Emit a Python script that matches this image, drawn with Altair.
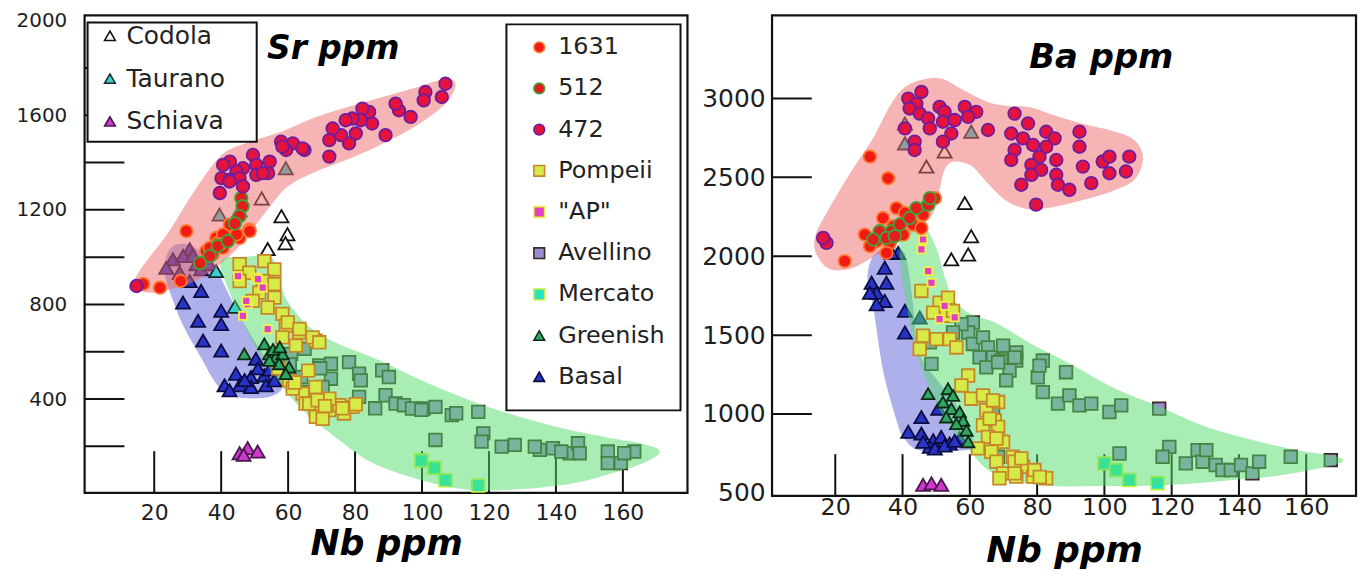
import altair as alt
import pandas as pd

FONT = "DejaVu Sans"

# ---------------- categories & styles ----------------
GROUPS9 = ["1631", "512", "472", "Pompeii", '"AP"', "Avellino", "Mercato", "Greenish", "Basal"]
FILL9 = ["#f41a14", "#e41c1c", "#e6123e", "#d6ea48", "#e23ec8", "#9c8cd2", "#20e6c4", "#2fa862", "#2834c6"]
STROKE9 = ["#ff7a30", "#3da43d", "#6c1ea0", "#c8862a", "#f2f040", "#3a2a22", "#c6f040", "#0e2a16", "#0c0c44"]
SHAPE9 = ["circle", "circle", "circle", "square", "square", "square", "square", "triangle-up", "triangle-up"]

GROUPS3 = ["Codola", "Taurano", "Schiava"]
FILL3 = ["#ffffff", "#38cfcf", "#cf36cf"]
STROKE3 = ["#111111", "#1a2a2a", "#4a184a"]
SHAPE3 = ["triangle-up", "triangle-up", "triangle-up"]

NB_TICKS = [20, 40, 60, 80, 100, 120, 140, 160]

# ---------------- Sr ppm vs Nb ppm (left panel) ----------------
SR_472 = [(107, 1733), (105.9, 1677), (101, 1698), (100.5, 1663), (96.6, 1593), (93.1, 1621), (92.1, 1649),
          (89.1, 1516), (85.1, 1565), (84.2, 1614), (82.2, 1628), (81.7, 1579), (79.2, 1586), (80.2, 1523),
          (78.2, 1481), (77.2, 1579), (75.8, 1516), (73.3, 1544), (72.3, 1495), (72.3, 1425), (64.9, 1453),
          (61.4, 1481), (57.9, 1488), (59.4, 1453), (54.5, 1404), (54, 1355), (49.5, 1432), (50.5, 1390),
          (46.5, 1376), (44.6, 1362), (42.6, 1404), (40.6, 1390), (40.1, 1334), (42.6, 1327), (45.5, 1334),
          (39.6, 1271), (46.5, 1299), (50.5, 1348), (52.4, 1355), (58.3, 1467), (64.3, 1460), (42.5, 1320),
          (14.7, 878)]
SR_1631 = [(29.6, 1110), (21.7, 871), (16.7, 887), (38.5, 1081), (42.5, 1110), (45.5, 1081), (48.4, 1117),
           (40.5, 1039), (37.5, 1012), (39, 1060), (35.5, 1026), (48.5, 1110), (44.6, 1096), (40.6, 1096),
           (42.6, 1138), (39.6, 1054), (36.6, 1039), (27.9, 899)]
SR_512 = [(46, 1250), (46.4, 1215), (45.5, 1173), (44.1, 1143), (39, 1047), (36.6, 1005), (33.7, 975), (42, 1068)]
SR_CODOLA = [(52.1, 1248), (45.5, 1198), (58, 1173), (59.8, 1097), (59.2, 1059), (53.9, 1034)]
SR_TAURANO = [(59.3, 1376), (39.5, 1180), (38.5, 941), (44.1, 790)]
SR_SCHIAVA = [(45.5, 171), (47.9, 192), (50.9, 178), (46.7, 164)]
SR_BASAL = [(34, 857), (28.6, 808), (40, 773), (33.1, 731), (40, 717), (34.6, 647), (40, 605), (44.4, 507),
            (48.9, 493), (41, 458), (45.5, 458), (48.9, 451), (52.9, 500), (50.4, 570), (53.4, 458), (42.5, 437),
            (55.9, 479), (51, 530), (47, 480), (54.5, 525),
            (30.6, 1033), (25.6, 991), (23.6, 955), (27.6, 934), (32.6, 970), (34, 949), (30.6, 899),
            (36.5, 970), (28.6, 1005), (31.6, 1005)]
SR_GREENISH = [(46.9, 591), (52.9, 633), (54.4, 591), (56.3, 577), (58.3, 591), (57.3, 549), (54.4, 563),
               (60.3, 535), (59.3, 507), (55.5, 610), (57.5, 620)]
SR_AVELLINO = [(64.9, 612), (69.3, 542), (72.8, 549), (78.2, 556), (81.2, 507), (81.7, 479), (88.1, 521),
               (90.1, 493), (72.8, 486), (70.3, 451), (65.8, 430), (63.9, 493), (60.9, 591), (81.2, 409),
               (89.1, 416), (92.1, 381), (94.6, 374), (97, 360), (100.5, 360), (104, 367), (108.9, 332),
               (116.8, 346), (104, 227), (118.3, 255), (117.8, 220), (123.8, 199), (127.7, 206), (135.2, 185),
               (139.1, 192), (144.1, 171), (146.6, 213), (155.5, 178), (155.5, 129), (159.4, 129), (163.4, 178),
               (160.4, 171), (133.7, 199), (141.6, 178), (147.1, 171), (60.5, 546), (69.6, 530), (86, 361),
               (99.8, 354), (110.2, 340)]
SR_POMPEII = [(52.9, 983), (55.9, 948), (45.5, 970), (48.4, 934), (52.4, 899), (55.9, 886), (51.4, 850),
              (55.9, 829), (49.4, 815), (53.9, 787), (58.3, 760), (59.3, 710), (63.3, 682), (58.3, 661),
              (62.3, 626), (68.2, 647), (45.5, 899), (60.3, 479), (64.3, 423), (68.2, 451), (68.2, 353),
              (65.2, 381), (61.4, 444), (66.3, 381), (68.3, 325), (72.3, 353), (75.3, 374), (76.7, 339),
              (79.2, 367), (72.3, 402), (68.8, 395), (59.9, 724), (63.4, 696), (67.3, 661), (69.3, 640),
              (71, 370), (70.3, 316), (76.2, 361), (80.2, 378), (62, 470), (57, 530), (66, 520)]
SR_AP = [(45, 920), (50.4, 913), (52.4, 871), (47.9, 801), (46.5, 752), (53.9, 696), (51, 907), (47.5, 815)]
SR_MERCATO = [(99.8, 140), (103.7, 109), (107, 56), (116.8, 34)]

SR_RED_FIELD = [(14, 880), (16, 950), (24, 1100), (32, 1280), (40, 1430), (48, 1485), (58, 1530), (68, 1590),
                (79, 1640), (89, 1680), (100, 1725), (107.5, 1755), (110, 1730), (108, 1665), (104, 1612),
                (97, 1545), (89, 1485), (79, 1420), (68, 1360), (60, 1300), (55, 1222), (50, 1130), (45, 1040),
                (41, 985), (36, 930), (30, 885), (24, 862), (18, 850)]
SR_BLUE_FIELD = [(25, 1040), (23, 950), (25, 840), (29, 700), (34, 575), (38, 475), (41, 430), (46, 405),
                 (54, 408), (58, 440), (58, 505), (53, 580), (46, 740), (41, 880), (38, 960), (34, 1020),
                 (30, 1055)]
SR_GREEN_FIELD = [(40, 985), (48, 1003), (55, 1000), (57, 913), (60, 810), (66, 710), (74, 640), (87, 565),
                  (100, 478), (118, 375), (138, 290), (155, 238), (166, 210), (171, 180), (167, 135), (157, 87),
                  (144, 41), (125, 15), (113, 18), (100, 56), (85, 132), (74, 240), (66, 331), (60, 420),
                  (56, 500), (51, 600), (46, 740), (42, 870)]

# ---------------- Ba ppm vs Nb ppm (right panel) ----------------
BA_472 = [(45.6, 3041), (41.7, 2999), (44.1, 2967), (42.1, 2936), (45.1, 2904), (47.6, 2873), (51, 2946),
          (52.5, 2915), (48.1, 2810), (52, 2852), (55.5, 2863), (58.5, 2946), (61.9, 2915), (59.5, 2883),
          (65.4, 2800), (54.5, 2778), (52, 2726), (43.6, 2726), (43.6, 2673), (40.7, 2810), (17.4, 2085),
          (16.4, 2116), (73.3, 2904), (77.3, 2841), (72.3, 2778), (75.8, 2747), (82.7, 2789), (85.2, 2747),
          (78.8, 2705), (82.7, 2694), (73.3, 2673), (80.7, 2631), (85.7, 2610), (72.3, 2610), (78.3, 2579),
          (81.2, 2547), (78.3, 2516), (85.7, 2516), (75.3, 2453), (86.2, 2453), (89.6, 2421), (79.7, 2327),
          (92.6, 2789), (92.6, 2694), (93.6, 2568), (96.1, 2463), (99.5, 2600), (101.5, 2631), (101.5, 2526),
          (106.4, 2537), (107.4, 2631)]
BA_1631 = [(30.3, 2631), (35.7, 2494), (22.8, 1969), (28.8, 2137), (34.2, 2242), (38.2, 2305), (40.7, 2274),
           (37.2, 2190), (32.3, 2095), (36.2, 2085), (40.2, 2137), (43.1, 2201), (45.6, 2179), (46.1, 2264),
           (49.6, 2368), (35.2, 2021), (30.3, 2064)]
BA_512 = [(44.1, 2305), (47.6, 2327), (48.1, 2368), (33.2, 2158), (36.7, 2158), (39.2, 2201), (31.3, 2106),
          (35.2, 2116), (42.1, 2242), (37.7, 2127)]
BA_CODOLA = [(47.1, 2568), (52.5, 2663), (58.5, 2337), (60.4, 2127), (59.5, 2011), (54.5, 1980)]
BA_TAURANO = [(40.7, 2841), (40.7, 2715), (60.4, 2789)]
BA_SCHIAVA = [(46.1, 551), (48.6, 561), (51.5, 551)]
BA_BASAL = [(38.7, 2021), (36.7, 2021), (34.7, 1927), (30.8, 1832), (35.2, 1832), (32.3, 1769), (30.3, 1769),
            (34.7, 1717), (32.3, 1696), (40.7, 1654), (40.7, 1517), (45.1, 1612), (45.6, 981), (41.7, 887),
            (45.6, 876), (49.1, 834), (48.1, 792), (51.5, 855), (54, 813), (57, 845), (50.6, 1034), (49.6, 782),
            (46.1, 824), (52.5, 800), (55.5, 830)]
BA_GREENISH = [(47.6, 1129), (53.5, 1160), (55, 1118), (52, 1076), (54.5, 1034), (57, 1013), (53, 981),
               (58, 960), (56, 939), (59, 897), (59.5, 824)]
BA_POMPEII = [(45.6, 1780), (51, 1706), (53.5, 1738), (49.1, 1643), (53, 1622), (55, 1654), (46.1, 1496),
              (50.1, 1475), (54, 1475), (56, 1422), (45.1, 1412), (59.5, 1244), (57.5, 1181), (60.4, 1097),
              (63.9, 1118), (68.4, 1076), (64.9, 1024), (67.4, 960), (63.9, 929), (68.4, 918), (65.4, 855),
              (69.9, 824), (62.4, 782), (66.4, 761), (72.8, 729), (67.9, 698), (75.8, 666), (69.9, 624),
              (73.8, 603), (78.8, 603), (66.9, 1086), (65.9, 971), (67.9, 845), (73.3, 698), (75.3, 719),
              (79.2, 645), (82.7, 593), (73.3, 624), (68.8, 593), (80.8, 601)]
BA_AP = [(46.1, 2106), (45.6, 2043), (47.6, 1906), (48.6, 1832), (52.5, 1685), (51, 1601), (55.5, 1612)]
BA_AVELLINO = [(60.9, 1580), (59.5, 1517), (60.9, 1444), (63.9, 1486), (65.4, 1422), (62.9, 1359), (66.9, 1359),
               (64.9, 1296), (69.3, 1339), (69.9, 1433), (73.8, 1391), (73.8, 1339), (71.8, 1276), (70.8, 1213),
               (57.5, 1570), (55, 1517), (48.1, 1454), (48.6, 1318), (66.9, 1024), (68.4, 729), (68.4, 1328),
               (73.3, 1359), (81.7, 1339), (80.2, 1233), (88.6, 1265), (81.7, 1139), (86.2, 1066), (89.6, 1118),
               (92.6, 1055), (96.1, 1066), (101.5, 1013), (105, 1055), (116.3, 1034), (104.5, 750), (119.3, 792),
               (117.3, 729), (124.2, 687), (127.7, 771), (129.2, 698), (133.1, 677), (135.1, 645), (137.6, 645),
               (140.6, 677), (144, 624), (146, 698), (155.4, 729), (167.3, 708), (130.3, 771), (80.7, 1307)]
BA_MERCATO = [(100, 687), (103.5, 645), (107.4, 582), (115.8, 561)]

BA_RED_FIELD = [(14.2, 2024), (18.1, 1921), (24.5, 1921), (30.9, 1990), (37.3, 2070), (42.4, 2139), (47.5, 2231),
                (50.1, 2322), (51.4, 2461), (52.6, 2552), (55.2, 2600), (60.3, 2575), (65.4, 2461), (70.5, 2357),
                (76.9, 2300), (84.6, 2311), (93.6, 2357), (102.5, 2414), (108.9, 2484), (111.5, 2621),
                (108.9, 2736), (102.5, 2793), (93.6, 2839), (84.6, 2897), (78.2, 2943), (70.5, 2954),
                (65.4, 2977), (57.7, 3057), (51.4, 3126), (45, 3115), (39.9, 3057), (36, 2943), (30.9, 2736),
                (24.5, 2529), (18.1, 2300), (14.2, 2139)]
BA_BLUE_FIELD = [(31, 1990), (35.2, 2053), (40.2, 2032), (42, 1880), (43.1, 1696), (45.1, 1381), (52, 1170),
                 (59, 960), (61, 800), (57, 768), (45, 771), (40.2, 855), (38.2, 960), (34.2, 1276),
                 (31.3, 1675), (29.6, 1850)]
BA_GREEN_FIELD = [(39.9, 2139), (46.2, 2185), (50.1, 2047), (52.6, 1863), (55.2, 1726), (60.3, 1634), (68, 1575),
                  (78.2, 1445), (91, 1305), (103.8, 1155), (116.6, 1045), (129.4, 925), (142.2, 845),
                  (157.5, 770), (169.1, 730), (170.3, 692), (161.4, 646), (148.6, 601), (135.8, 578),
                  (123, 555), (110.2, 544), (97.4, 544), (84.6, 544), (73.1, 578), (65.4, 646), (60.3, 761),
                  (52.6, 968), (47.5, 1197), (43.7, 1427), (40.5, 1772), (39.2, 2001)]


def pts_df(groups):
    rows = []
    for g, pairs in groups:
        for nb, v in pairs:
            rows.append({"nb": nb, "v": v, "grp": g})
    return pd.DataFrame(rows)


def region_df(pairs):
    return pd.DataFrame({"nb": [p[0] for p in pairs], "v": [p[1] for p in pairs],
                         "i": list(range(len(pairs)))})


def panel(cfg):
    W, H = cfg["w"], cfg["h"]
    X = alt.X("nb:Q", scale=alt.Scale(domain=cfg["xdom"], nice=False, zero=False),
              axis=alt.Axis(values=NB_TICKS, title="Nb ppm", format="d", grid=False, ticks=False, tickSize=0,
                            domain=False, labelFontSize=cfg["xlab"], labelPadding=cfg["xpad"],
                            labelOverlap=False, titleFontSize=cfg["tsize"], titleFontWeight="bold",
                            titleFontStyle="italic", titlePadding=cfg["tpad"]))
    Y = alt.Y("v:Q", scale=alt.Scale(domain=cfg["ydom"], nice=False, zero=False),
              axis=alt.Axis(values=cfg["ylabels"], title=None, format="d", grid=False, ticks=False, tickSize=0,
                            domain=False, labelFontSize=cfg["ylab"], labelPadding=cfg["ypad"],
                            labelOverlap=False))

    def region(pairs, color, op):
        return alt.Chart(region_df(pairs)).mark_line(
            interpolate="cardinal-closed", fill=color, fillOpacity=op, strokeOpacity=0, strokeWidth=0
        ).encode(x=X, y=Y, order="i:Q")

    def points(groups, nine=True, size=170, legend=None):
        dom, fills, strokes, shapes = (GROUPS9, FILL9, STROKE9, SHAPE9) if nine else (GROUPS3, FILL3, STROKE3, SHAPE3)
        return alt.Chart(pts_df(groups)).mark_point(filled=True, opacity=1, size=size, strokeWidth=1.8).encode(
            x=X, y=Y,
            fill=alt.Fill("grp:N", scale=alt.Scale(domain=dom, range=fills), legend=legend),
            stroke=alt.Stroke("grp:N", scale=alt.Scale(domain=dom, range=strokes), legend=legend),
            shape=alt.Shape("grp:N", scale=alt.Scale(domain=dom, range=shapes), legend=legend),
        )

    ytick = alt.Chart(pd.DataFrame({"v": cfg["yticks"]})).mark_rule(color="#111", strokeWidth=2).encode(
        y=Y, x=alt.value(0), x2=alt.value(40))
    xtick = alt.Chart(pd.DataFrame({"nb": NB_TICKS})).mark_rule(color="#111", strokeWidth=2).encode(
        x=X, y=alt.value(H), y2=alt.value(H - 42))

    d = cfg["data"]
    layers = [
        region(cfg["blue"], "#aeb0ec", 1.0),
        ytick, xtick,
        points([("Basal", d["Basal"])], size=200),
        points([("Mercato", d["Mercato"]), ("Avellino", d["Avellino"])], size=160),
        points([("Codola", d["Codola"]), ("Taurano", d["Taurano"])], nine=False, size=200),
        region(cfg["red"], "#ee6a6a", 0.5),
        region(cfg["green"], "#52dd6a", 0.5),
        points([("Pompeii", d["Pompeii"])], size=160),
        points([('"AP"', d['"AP"'])], size=64),
        points([("Greenish", d["Greenish"]), ("1631", d["1631"]), ("512", d["512"]), ("472", d["472"])],
               size=160, legend=cfg["leg9"]),
        points([("Schiava", d["Schiava"])], nine=False, size=200, legend=cfg["leg3"]),
    ]
    for (x1, y1, x2, y2) in cfg["boxes"]:
        layers.append(alt.Chart(pd.DataFrame({"k": [0]})).mark_rect(
            fill="white", stroke="#111", strokeWidth=2).encode(
            x=alt.value(x1), x2=alt.value(x2), y=alt.value(y1), y2=alt.value(y2)))
    tx, ty = cfg["label_pos"]
    layers.append(alt.Chart(pd.DataFrame({"t": [cfg["label"]]})).mark_text(
        font=FONT, fontSize=cfg["label_size"], fontWeight="bold", fontStyle="italic",
        align="center", baseline="middle", color="#000").encode(
        text="t:N", x=alt.value(tx), y=alt.value(ty)))
    return alt.layer(*layers).properties(width=W, height=H).resolve_scale(
        fill="independent", stroke="independent", shape="independent")


leg9 = alt.Legend(orient="none", legendX=445, legendY=20, title=None, direction="vertical", padding=0,
                  labelFont=FONT, labelFontSize=24, labelColor="#222", symbolSize=115,
                  symbolStrokeWidth=1.6, rowPadding=17.4, labelOffset=7)
leg3 = alt.Legend(orient="none", legendX=13, legendY=8, title=None, direction="vertical", padding=0,
                  labelFont=FONT, labelFontSize=25, labelColor="#222", symbolSize=115,
                  symbolStrokeWidth=1.6, rowPadding=17, labelOffset=4)

left = panel(dict(
    w=606, h=480, xdom=[-0.8, 179.3], ydom=[3, 2022],
    ylabels=[400, 800, 1200, 1600, 2000], yticks=[200, 400, 600, 800, 1000, 1200, 1400, 1600, 1800],
    xlab=22, xpad=10, tsize=35, tpad=3, ylab=20, ypad=18,
    blue=SR_BLUE_FIELD, red=SR_RED_FIELD, green=SR_GREEN_FIELD,
    data={"472": SR_472, "1631": SR_1631, "512": SR_512, "Codola": SR_CODOLA, "Taurano": SR_TAURANO,
          "Schiava": SR_SCHIAVA, "Basal": SR_BASAL, "Greenish": SR_GREENISH, "Avellino": SR_AVELLINO,
          "Pompeii": SR_POMPEII, '"AP"': SR_AP, "Mercato": SR_MERCATO},
    leg9=leg9, leg3=leg3,
    boxes=[(3, 7, 173, 127), (424, 9, 599, 397)],
    label="Sr ppm", label_pos=(250, 34), label_size=33,
))

right = panel(dict(
    w=587, h=483, xdom=[1.2, 174.8], ydom=[481, 3526],
    ylabels=[500, 1000, 1500, 2000, 2500, 3000], yticks=[1000, 1500, 2000, 2500, 3000],
    xlab=24, xpad=0, tsize=36, tpad=14, ylab=25, ypad=7,
    blue=BA_BLUE_FIELD, red=BA_RED_FIELD, green=BA_GREEN_FIELD,
    data={"472": BA_472, "1631": BA_1631, "512": BA_512, "Codola": BA_CODOLA, "Taurano": BA_TAURANO,
          "Schiava": BA_SCHIAVA, "Basal": BA_BASAL, "Greenish": BA_GREENISH, "Avellino": BA_AVELLINO,
          "Pompeii": BA_POMPEII, '"AP"': BA_AP, "Mercato": BA_MERCATO},
    leg9=None, leg3=None,
    boxes=[],
    label="Ba ppm", label_pos=(331, 43), label_size=34,
))

chart = alt.hconcat(left, right, spacing=85, bounds="flush").resolve_scale(
    fill="independent", stroke="independent", shape="independent"
).properties(
    padding={"left": 7, "top": 0, "right": 0, "bottom": 0}
).configure_view(
    stroke="#111", strokeWidth=2.2
).configure_axis(
    grid=False, labelFont=FONT, titleFont=FONT, labelColor="#1e1e1e", titleColor="#000"
)

chart.save("out.html", embed_options={"renderer": "svg", "actions": False})
